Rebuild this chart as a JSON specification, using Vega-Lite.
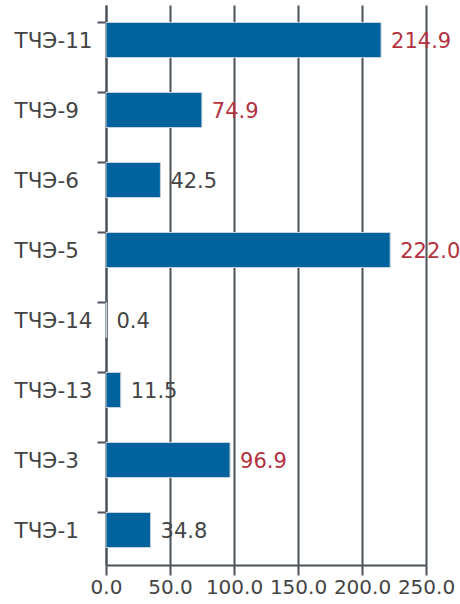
{
  "$schema": "https://vega.github.io/schema/vega-lite/v6.json",
  "width": 320,
  "height": 560,
  "autosize": "none",
  "padding": {"left": 106, "top": 5, "right": 34, "bottom": 39},
  "background": "white",
  "config": {
    "view": {"stroke": null},
    "font": "DejaVu Sans",
    "axis": {"labelFont": "DejaVu Sans", "labelFontSize": 20, "labelColor": "#444444"}
  },
  "data": {
    "values": [
      {"name": "ТЧЭ-11", "value": 214.9},
      {"name": "ТЧЭ-9", "value": 74.9},
      {"name": "ТЧЭ-6", "value": 42.5},
      {"name": "ТЧЭ-5", "value": 222.0},
      {"name": "ТЧЭ-14", "value": 0.4},
      {"name": "ТЧЭ-13", "value": 11.5},
      {"name": "ТЧЭ-3", "value": 96.9},
      {"name": "ТЧЭ-1", "value": 34.8}
    ]
  },
  "encoding": {
    "y": {
      "field": "name",
      "type": "nominal",
      "sort": null,
      "scale": {"paddingInner": 0.5, "paddingOuter": 0.25},
      "axis": {
        "title": null,
        "bandPosition": 0,
        "tickSize": 9,
        "tickWidth": 2,
        "tickColor": "#4b525a",
        "domainColor": "#4b525a",
        "domainWidth": 2,
        "labelAlign": "left",
        "labelPadding": 83,
        "labelOffset": 2,
        "labelFontSize": 21.5,
        "grid": false
      }
    },
    "x": {
      "field": "value",
      "type": "quantitative",
      "scale": {"domain": [0, 250], "nice": false},
      "axis": {
        "title": null,
        "values": [0, 50, 100, 150, 200, 250],
        "format": ".1f",
        "grid": true,
        "gridColor": "#4b525a",
        "gridWidth": 2,
        "gridOpacity": 1,
        "tickSize": 10,
        "tickWidth": 2,
        "tickColor": "#4b525a",
        "domainColor": "#4b525a",
        "domainWidth": 2,
        "labelPadding": 2,
        "labelFlush": false,
        "labelOverlap": false
      }
    }
  },
  "layer": [
    {
      "mark": {"type": "bar", "color": "#00639e", "stroke": "#c8d0d8", "strokeWidth": 1}
    },
    {
      "mark": {"type": "text", "align": "left", "baseline": "middle", "dx": 10, "dy": 2, "fontSize": 21, "font": "DejaVu Sans"},
      "encoding": {
        "text": {"field": "value", "type": "quantitative", "format": ".1f"},
        "color": {
          "condition": {"test": "datum.value > 60", "value": "#b2323f"},
          "value": "#444444"
        }
      }
    }
  ]
}
